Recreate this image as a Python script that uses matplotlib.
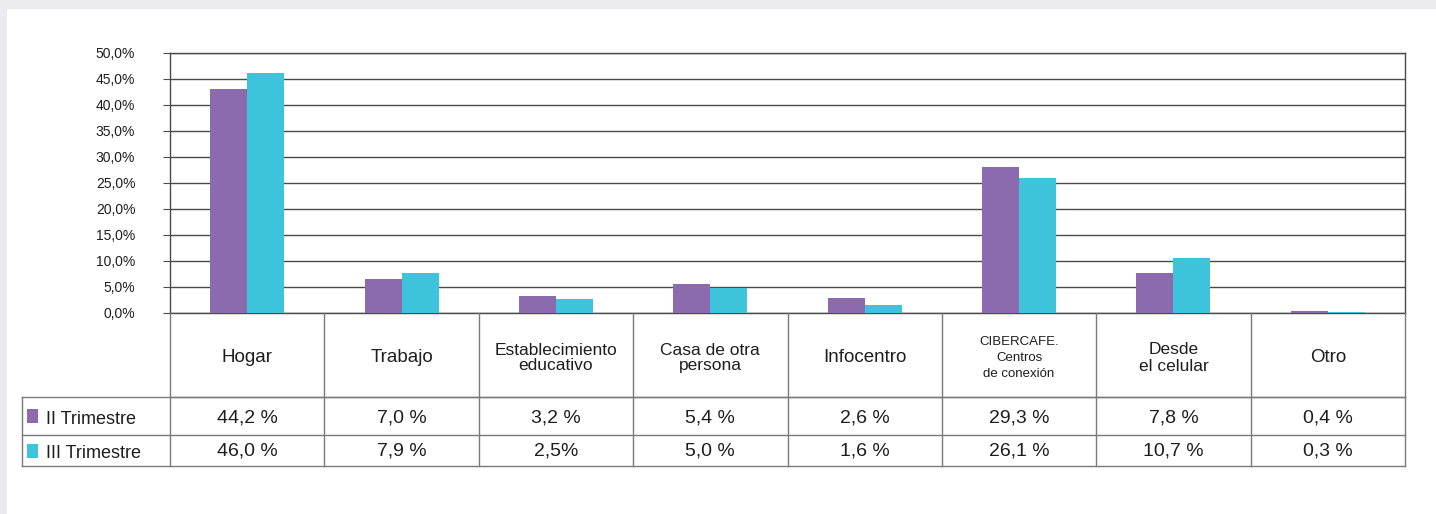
import matplotlib
matplotlib.use("Agg")
import matplotlib.pyplot as plt
from matplotlib.patches import Rectangle
from matplotlib.ticker import FuncFormatter, MultipleLocator

# ----------------------------------------------------------------------
# Data
# ----------------------------------------------------------------------
categories = [
    "Hogar",
    "Trabajo",
    "Establecimiento\neducativo",
    "Casa de otra\npersona",
    "Infocentro",
    "CIBERCAFE.\nCentros\nde conexión",
    "Desde\nel celular",
    "Otro",
]
series_names = ["II Trimestre", "III Trimestre"]

# bar heights as drawn in the chart (%)
bars_q2 = [43.1, 6.6, 3.2, 5.5, 2.8, 28.0, 7.6, 0.4]
bars_q3 = [46.2, 7.6, 2.6, 4.8, 1.6, 26.0, 10.6, 0.2]

# values printed in the table
table_q2 = ["44,2 %", "7,0 %", "3,2 %", "5,4 %", "2,6 %", "29,3 %", "7,8 %", "0,4 %"]
table_q3 = ["46,0 %", "7,9 %", "2,5%", "5,0 %", "1,6 %", "26,1 %", "10,7 %", "0,3 %"]

# ----------------------------------------------------------------------
# Style
# ----------------------------------------------------------------------
PURPLE = "#8B6BAE"
CYAN = "#3DC3DC"
TEXT = "#1e1e1e"
GRID = "#4a4a4a"
TABLE = "#7a7a7a"
FONT = ["Liberation Sans Narrow", "Liberation Sans", "DejaVu Sans"]

plt.rcParams["font.family"] = FONT

W, H = 1436, 514
fig = plt.figure(figsize=(W / 100, H / 100), dpi=100)
fig.patch.set_facecolor("#ebebef")
fig.patches.append(Rectangle((7 / W, 0), 1 - 7 / W, 1 - 9 / H,
                             transform=fig.transFigure, facecolor="white",
                             edgecolor="none", zorder=-10))

# plot area in pixels
left, right, top, bottom = 170, 1405, 53, 313
ax = fig.add_axes([left / W, 1 - bottom / H, (right - left) / W, (bottom - top) / H])
ax.set_facecolor("white")

n = len(categories)
bw = 0.24
xs = [i + 0.5 for i in range(n)]
ax.bar([x - bw / 2 for x in xs], bars_q2, width=bw, color=PURPLE, zorder=3)
ax.bar([x + bw / 2 for x in xs], bars_q3, width=bw, color=CYAN, zorder=3)

ax.set_xlim(0, n)
ax.set_ylim(0, 50)
ax.yaxis.set_major_locator(MultipleLocator(5))
ax.yaxis.set_major_formatter(FuncFormatter(lambda v, p: f"{v:.1f}%".replace(".", ",")))
ax.set_xticks([])
ax.grid(axis="y", color=GRID, linewidth=1.0, zorder=1)
ax.tick_params(axis="y", direction="out", length=5, width=0.8, color=GRID,
               labelsize=10, labelcolor=TEXT, pad=20)
for s in ax.spines.values():
    s.set_color(GRID)
    s.set_linewidth(1.0)

# ----------------------------------------------------------------------
# Data table below the axes (in data units: 50 % = 260 px)
# ----------------------------------------------------------------------
ppx = 50 / (bottom - top)          # % per pixel
y_head = -(397 - bottom) * ppx
y_row1 = -(435 - bottom) * ppx
y_row2 = -(466 - bottom) * ppx
x_leg = (22 - left) / ((right - left) / n)

line_kw = dict(color=TABLE, linewidth=1.0, clip_on=False, zorder=4)
# horizontal lines
ax.plot([0, n], [y_head, y_head], **line_kw)
ax.plot([x_leg, n], [y_head, y_head], **line_kw)
ax.plot([x_leg, n], [y_row1, y_row1], **line_kw)
ax.plot([x_leg, n], [y_row2, y_row2], **line_kw)
# vertical lines
for i in range(n + 1):
    ax.plot([i, i], [0, y_row2], **line_kw)
ax.plot([x_leg, x_leg], [y_head, y_row2], **line_kw)

# header labels
head_sizes = {"Establecimiento\neducativo": 12.5, "Casa de otra\npersona": 12.5,
              "CIBERCAFE.\nCentros\nde conexión": 9.5, "Desde\nel celular": 12.5}
head_spacing = {"CIBERCAFE.\nCentros\nde conexión": 1.45, "Desde\nel celular": 1.15}
y_lab = y_head / 2 - 3 * ppx
for x, cat in zip(xs, categories):
    fs = head_sizes.get(cat, 13.5)
    ax.text(x, y_lab, cat, ha="center", va="center", fontsize=fs,
            color=TEXT, linespacing=head_spacing.get(cat, 0.95), clip_on=False)

# value rows
for x, a, b in zip(xs, table_q2, table_q3):
    ax.text(x, (y_head + y_row1) / 2 - 2 * ppx, a, ha="center", va="center",
            fontsize=14, color=TEXT, clip_on=False)
    ax.text(x, (y_row1 + y_row2) / 2 - 1 * ppx, b, ha="center", va="center",
            fontsize=14, color=TEXT, clip_on=False)

# legend keys in the left column
px_x = (right - left) / n           # pixels per category unit
sq_h = 14 * ppx
sq_x = x_leg + 5 / px_x
sq_w = 11 / px_x
for (y0, y1), name, col in zip([(y_head, y_row1), (y_row1, y_row2)], series_names, [PURPLE, CYAN]):
    yc = (y0 + y1) / 2
    ax.add_patch(Rectangle((sq_x, yc - sq_h / 2), sq_w, sq_h, facecolor=col,
                           edgecolor="none", clip_on=False, zorder=5))
    ax.text(sq_x + 19 / px_x, yc - 3 * ppx, name, ha="left", va="center",
            fontsize=13, color=TEXT, clip_on=False)

fig.savefig("out.png", dpi=100, facecolor=fig.get_facecolor())
